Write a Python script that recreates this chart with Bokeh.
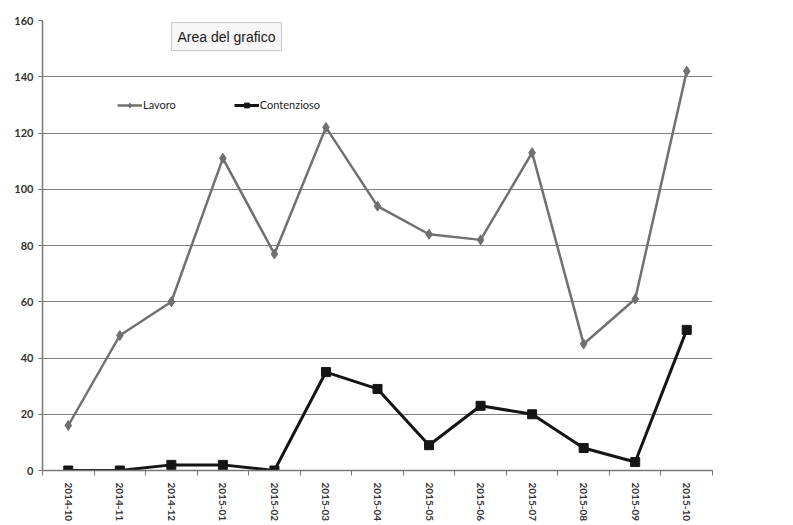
import math
from bokeh.plotting import figure
from bokeh.models import FixedTicker, Range1d, Label, Legend, LegendItem, ColumnDataSource
from bokeh.embed import file_html
from bokeh.resources import INLINE

months = ["2014-10", "2014-11", "2014-12", "2015-01", "2015-02", "2015-03", "2015-04",
          "2015-05", "2015-06", "2015-07", "2015-08", "2015-09", "2015-10"]
lavoro = [16, 48, 60, 111, 77, 122, 94, 84, 82, 113, 45, 61, 142]
contenzioso = [0, 0, 2, 2, 0, 35, 29, 9, 23, 20, 8, 3, 50]
y_ticks = [0, 20, 40, 60, 80, 100, 120, 140, 160]

xs = [i + 0.5 for i in range(len(months))]
src = ColumnDataSource(dict(x=xs, lav=lavoro, con=contenzioso))

p = figure(frame_width=670, frame_height=450, output_backend="svg", toolbar_location=None,
           x_range=Range1d(0, len(months)), y_range=Range1d(0, 160),
           min_border_left=42, min_border_right=81, min_border_top=20, min_border_bottom=55)
p.outline_line_color = None
p.background_fill_color = "white"
p.border_fill_color = "white"

FONT = "Lato"
# x axis
p.xaxis.ticker = FixedTicker(ticks=xs, minor_ticks=list(range(len(months) + 1)))
p.xaxis.major_label_overrides = {x: m for x, m in zip(xs, months)}
p.xaxis.major_label_orientation = -math.pi / 2
p.xaxis.major_tick_line_color = None
p.xaxis.minor_tick_line_color = "#777777"
p.xaxis.minor_tick_out = 5
p.xaxis.minor_tick_in = 0
p.xaxis.axis_line_color = "#777777"
p.xaxis.axis_line_width = 1.5
p.xaxis.major_label_text_font = FONT
p.xaxis.major_label_text_font_size = "10px"
p.xaxis.major_label_text_font_style = "bold"
p.xaxis.major_label_text_color = "#333333"
p.xaxis.major_label_standoff = 6

# y axis
p.yaxis.ticker = FixedTicker(ticks=y_ticks)
p.yaxis.minor_tick_line_color = None
p.yaxis.major_tick_line_color = "#777777"
p.yaxis.major_tick_out = 4
p.yaxis.major_tick_in = 0
p.yaxis.axis_line_color = "#777777"
p.yaxis.axis_line_width = 1.5
p.yaxis.major_label_text_font = FONT
p.yaxis.major_label_text_font_size = "11px"
p.yaxis.major_label_text_font_style = "bold"
p.yaxis.major_label_text_color = "#333333"
p.yaxis.major_label_standoff = 5

p.xgrid.grid_line_color = None
p.ygrid.ticker = FixedTicker(ticks=y_ticks)
p.ygrid.grid_line_color = "#808080"
p.ygrid.grid_line_width = 1.2

l1 = p.line("x", "lav", source=src, line_color="#707070", line_width=2.5)
m1 = p.scatter("x", "lav", source=src, marker="diamond", size=10, fill_color="#707070", line_color="#707070")
l2 = p.line("x", "con", source=src, line_color="#151515", line_width=3)
m2 = p.scatter("x", "con", source=src, marker="square", size=9, fill_color="#151515", line_color="#151515")

legend = Legend(items=[LegendItem(label="Lavoro", renderers=[l1, m1]),
                       LegendItem(label="Contenzioso", renderers=[l2, m2])],
                orientation="horizontal", location=(75, 359),
                border_line_color=None, background_fill_alpha=0,
                label_text_font=FONT, label_text_font_size="11px", label_text_color="#222222",
                glyph_width=25, glyph_height=12, spacing=58, padding=4, margin=0,
                label_standoff=1)
p.add_layout(legend, "center")

box = Label(x=3.57, y=154.3, text="Area del grafico", text_align="center", text_baseline="middle",
            text_font="Liberation Sans", text_font_size="14px", text_color="#1a1a1a",
            background_fill_color="#f6f6f6", border_line_color="#c8c8c8", border_line_width=1,
            padding=6)
p.add_layout(box)

open("out.html", "w").write(file_html(p, INLINE))
